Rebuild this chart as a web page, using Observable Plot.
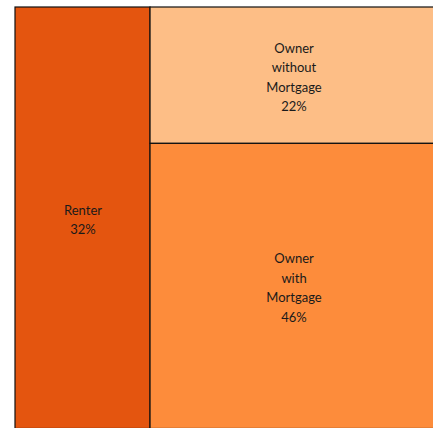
<!DOCTYPE html>
<html>
<head>
<meta charset="utf-8">
<script src="https://cdn.jsdelivr.net/npm/d3@7"></script>
<script src="https://cdn.jsdelivr.net/npm/@observablehq/plot@0.6"></script>
<style>
  html, body { margin: 0; padding: 0; background: #fff; overflow: hidden; }
  svg { display: block; }
</style>
</head>
<body>
<div id="chart"></div>
<script>
const groups = ["Renter", "Owner", "Owner"];
const labels = ["Renter", "Owner\nwithout\nMortgage", "Owner\nwith\nMortgage"];
const shares = [32, 22, 46];
const colors = ["#e4550f", "#fdbe86", "#fd8c3b"];

// Build hierarchy: root -> Renter, Owner(without, with)
const tree = {
  name: "root",
  children: [
    {name: "Renter", children: [{idx: 0, value: shares[0]}]},
    {name: "Owner", children: [{idx: 1, value: shares[1]}, {idx: 2, value: shares[2]}]}
  ]
};
const root = d3.hierarchy(tree).sum(d => d.value || 0);
d3.treemap().tile(d3.treemapSliceDice).size([1, 1]).round(false)(root);
const cells = root.leaves().map(l => ({
  label: labels[l.data.idx],
  pct: shares[l.data.idx] + "%",
  color: colors[l.data.idx],
  x0: l.x0, x1: l.x1, y0: l.y0, y1: l.y1
}));

const chart = Plot.plot({
  width: 433,
  height: 428,
  margin: 0,
  x: {domain: [0, 1], range: [15, 437], axis: null},
  y: {domain: [0, 1], range: [7, 428.5], axis: null},
  marks: [
    Plot.rect(cells, {
      x1: "x0", x2: "x1", y1: "y0", y2: "y1",
      fill: "color", stroke: "#111", strokeWidth: 1.2
    }),
    Plot.text(cells, {
      x: d => (d.x0 + d.x1) / 2,
      y: d => (d.y0 + d.y1) / 2,
      text: d => d.label + "\n" + d.pct,
      fill: "#1a1a1a",
      fontSize: 13,
      lineHeight: 1.5,
      fontFamily: "Lato"
    })
  ],
  style: {fontFamily: "Lato", background: "#fff"}
});
document.getElementById("chart").appendChild(chart);
</script>
</body>
</html>
